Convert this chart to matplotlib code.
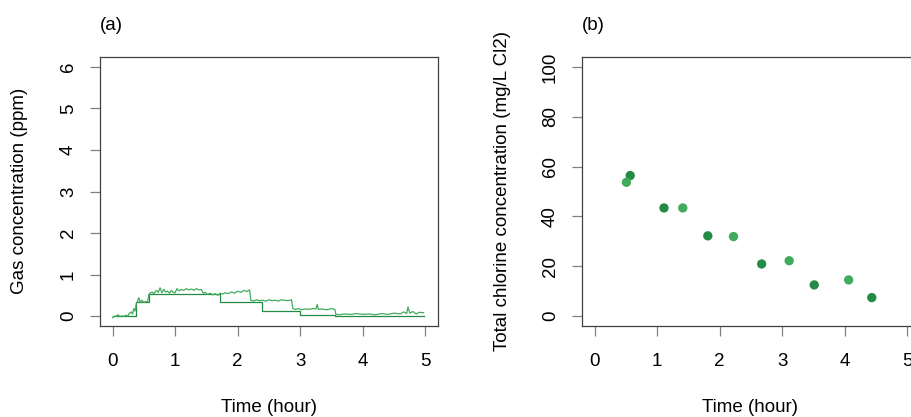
import numpy as np
import matplotlib
matplotlib.use('Agg')
import matplotlib.pyplot as plt

plt.rcParams['font.family'] = ['Liberation Sans', 'DejaVu Sans']

# panel (a): gas sensor traces
t_gas = [0.00, 0.03, 0.06, 0.09, 0.12, 0.15, 0.18, 0.21, 0.24, 0.27, 0.30, 0.32,
         0.34, 0.36, 0.38, 0.40, 0.42, 0.44, 0.47, 0.50, 0.53, 0.56, 0.58, 0.60,
         0.63, 0.66, 0.70, 0.73, 0.76, 0.79, 0.82, 0.85, 0.88, 0.91, 0.94, 0.97,
         1.00, 1.03, 1.06, 1.10, 1.14, 1.18, 1.22, 1.26, 1.30, 1.34, 1.38, 1.42,
         1.45, 1.48, 1.52, 1.56, 1.60, 1.64, 1.68, 1.72, 1.76, 1.80, 1.85, 1.90,
         1.95, 2.00, 2.05, 2.10, 2.15, 2.19, 2.21, 2.25, 2.30, 2.35, 2.40, 2.45,
         2.50, 2.55, 2.60, 2.65, 2.70, 2.75, 2.80, 2.86, 2.88, 2.92, 2.97, 3.02,
         3.08, 3.14, 3.20, 3.25, 3.27, 3.29, 3.35, 3.42, 3.50, 3.55, 3.57, 3.62,
         3.70, 3.80, 3.90, 4.00, 4.10, 4.20, 4.30, 4.40, 4.50, 4.60, 4.65, 4.70,
         4.72, 4.75, 4.80, 4.85, 4.90, 4.97]
gas = [-0.04, -0.01, 0.00, 0.03, -0.02, 0.01, -0.01, 0.02, 0.00, 0.06, 0.10, 0.05,
       0.18, 0.12, 0.30, 0.36, 0.44, 0.34, 0.38, 0.33, 0.35, 0.34, 0.52, 0.55,
       0.58, 0.54, 0.62, 0.57, 0.68, 0.56, 0.64, 0.58, 0.60, 0.55, 0.62, 0.57,
       0.56, 0.66, 0.61, 0.64, 0.62, 0.66, 0.63, 0.65, 0.62, 0.66, 0.63, 0.64,
       0.55, 0.57, 0.52, 0.55, 0.51, 0.54, 0.50, 0.55, 0.53, 0.56, 0.54, 0.58,
       0.55, 0.60, 0.57, 0.62, 0.59, 0.63, 0.38, 0.36, 0.39, 0.37, 0.38, 0.36,
       0.39, 0.37, 0.38, 0.36, 0.39, 0.38, 0.37, 0.39, 0.18, 0.16, 0.18, 0.15,
       0.17, 0.16, 0.18, 0.17, 0.28, 0.16, 0.17, 0.15, 0.18, 0.16, 0.04, 0.03,
       0.05, 0.04, 0.06, 0.04, 0.05, 0.03, 0.06, 0.04, 0.07, 0.05, 0.10, 0.06,
       0.22, 0.07, 0.11, 0.05, 0.09, 0.08]

t_step = [0.00, 0.37, 0.58, 1.72, 2.39, 3.00, 3.56, 4.97]
gas_step = [0.00, 0.33, 0.52, 0.34, 0.12, 0.03, 0.00, 0.00]

# panel (b): total chlorine samples
t_dark = [0.57, 1.11, 1.81, 2.67, 3.51, 4.43]
cl_dark = [56.4, 43.4, 32.2, 20.9, 12.5, 7.4]
t_light = [0.51, 1.41, 2.22, 3.11, 4.06]
cl_light = [53.7, 43.4, 31.9, 22.2, 14.5]

dark = '#238b45'
light = '#41ab5d'
fs = 13.5

fig = plt.figure(figsize=(9.12, 4.17), dpi=100)
ax1 = fig.add_axes([100/912, 91/417, 338/912, 269/417])
ax2 = fig.add_axes([582/912, 91/417, 338/912, 269/417])


def r_style(ax, yt):
    for s in ax.spines.values():
        s.set_color('#404040')
        s.set_linewidth(0.9)
    ax.set_xticks(range(6))
    ax.set_yticks(yt)
    ax.set_yticklabels([str(v) for v in yt], rotation=90, va='center', ha='right')
    ax.tick_params(direction='out', length=7.5, width=0.9, color='#808080',
                   labelsize=fs, labelcolor='black')
    ax.tick_params(axis='x', pad=12)
    ax.tick_params(axis='y', pad=9)


ax1.plot(t_step, gas_step, drawstyle='steps-post', color=dark, lw=0.9)
ax1.plot(t_gas, gas, color=light, lw=0.9)
ax1.set_xlim(-0.2, 5.2)
ax1.set_ylim(-0.24, 6.24)
r_style(ax1, list(range(7)))

ax2.scatter(t_dark, cl_dark, s=45, color=dark, edgecolors='none', zorder=3)
ax2.scatter(t_light, cl_light, s=45, color=light, edgecolors='none', zorder=3)
ax2.set_xlim(-0.2, 5.2)
ax2.set_ylim(-4, 104)
r_style(ax2, list(range(0, 101, 20)))

fig.text(20/912, 1 - 191/417, 'Gas concentration (ppm)', rotation=90,
         ha='center', va='center', fontsize=fs)
fig.text(503/912, 1 - 191/417, 'Total chlorine concentration (mg/L Cl2)',
         rotation=90, ha='center', va='center', fontsize=fs)
fig.text(269/912, 1 - 407/417, 'Time (hour)', ha='center', va='center', fontsize=fs)
fig.text(750/912, 1 - 407/417, 'Time (hour)', ha='center', va='center', fontsize=fs)
fig.text(100/912, 1 - 25/417, '(a)', ha='left', va='center', fontsize=fs)
fig.text(582/912, 1 - 25/417, '(b)', ha='left', va='center', fontsize=fs)

fig.savefig('out.png', dpi=100)
